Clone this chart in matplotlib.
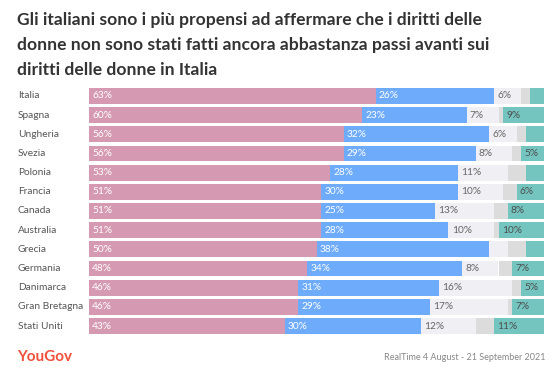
import matplotlib.pyplot as plt
from matplotlib.transforms import blended_transform_factory

# Survey data (percentages)
countries = ["Italia", "Spagna", "Ungheria", "Svezia", "Polonia", "Francia", "Canada",
             "Australia", "Grecia", "Germania", "Danimarca", "Gran Bretagna", "Stati Uniti"]
not_enough = [63, 60, 56, 56, 53, 51, 51, 51, 50, 48, 46, 46, 43]
about_right = [26, 23, 32, 29, 28, 30, 25, 28, 38, 34, 31, 29, 30]
too_far = [6, 7, 6, 8, 11, 10, 13, 10, 4, 8, 16, 17, 12]
dont_know = [2, 1, 2, 2, 4, 3, 3, 1, 4, 3, 2, 1, 4]
other = [3, 9, 4, 5, 4, 6, 8, 10, 4, 7, 5, 7, 11]

series = [not_enough, about_right, too_far, dont_know, other]
colors = ["#d59ab1", "#6eabfb", "#efeff4", "#dcdcdc", "#74c5c0"]
text_colors = ["white", "white", "#666666", None, "#4d4d4d"]

W, H = 556, 369
fig = plt.figure(figsize=(W / 100, H / 100), dpi=100)
plt.rcParams['font.family'] = ['Lato', 'DejaVu Sans']

top_px, bot_px = 86.4, 335.6
ax = fig.add_axes([89 / W, 1 - bot_px / H, (544 - 89) / W, (bot_px - top_px) / H])

y = list(range(len(countries)))
left = [0] * len(countries)
for vals, col, tcol in zip(series, colors, text_colors):
    ax.barh(y, vals, left=left, height=0.83, color=col, edgecolor="none")
    if tcol is not None:
        for i, v in enumerate(vals):
            if v >= 5:
                ax.text(left[i] + 0.7, i, f"{v}%", va="center", ha="left",
                        fontsize=7.3, color=tcol)
    left = [l + v for l, v in zip(left, vals)]

ax.set_xlim(0, 100)
ax.set_ylim(len(countries) - 0.5, -0.5)
ax.axis("off")

trans = blended_transform_factory(fig.transFigure, ax.transData)
for i, c in enumerate(countries):
    ax.text(18 / W, i, c, transform=trans, va="center", ha="left",
            fontsize=7.3, color="#555555")

title = ("Gli italiani sono i più propensi ad affermare che i diritti delle\n"
         "donne non sono stati fatti ancora abbastanza passi avanti sui\n"
         "diritti delle donne in Italia")
fig.text(17 / W, 1 - 12 / H, title, ha="left", va="top", fontsize=12.6,
         fontweight="bold", color="#333333", linespacing=1.7)

fig.text(17 / W, 1 - 357 / H, "YouGov", ha="left", va="center", fontsize=11,
         fontweight="bold", color="#f0503c")
fig.text(545 / W, 1 - 357 / H, "RealTime 4 August - 21 September 2021", ha="right",
         va="center", fontsize=6.5, color="#888888")

fig.savefig("out.png", dpi=100)
